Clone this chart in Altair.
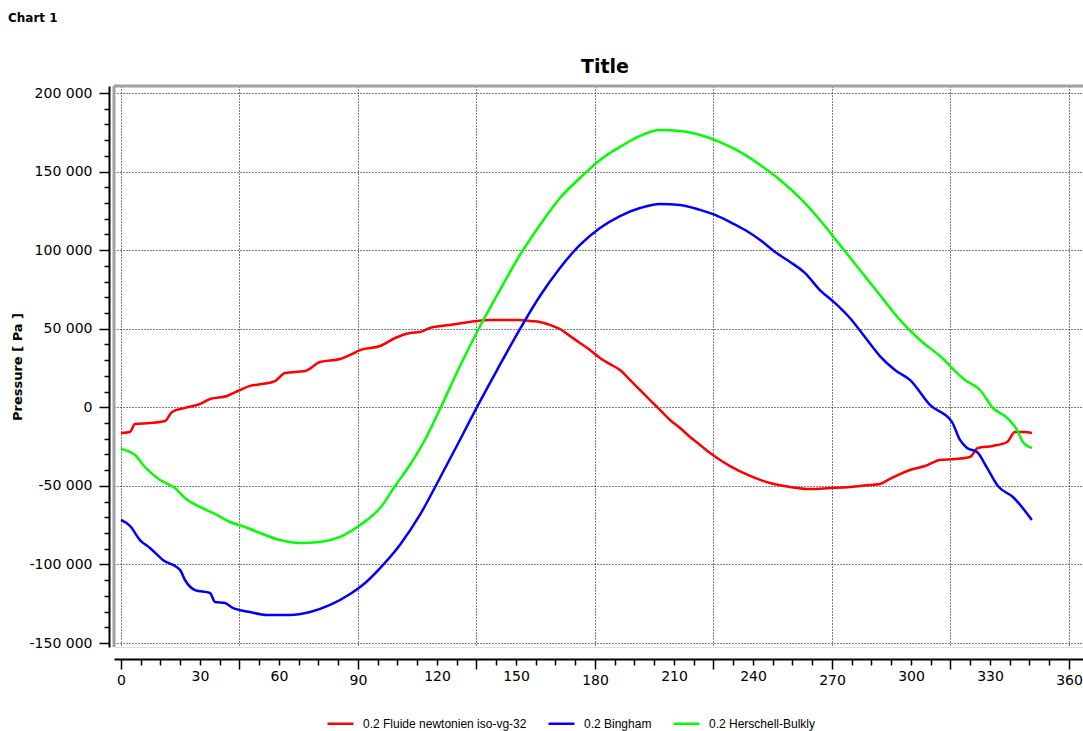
import altair as alt
import pandas as pd

# ---------------- data ----------------
series_names = ["0.2 Fluide newtonien iso-vg-32", "0.2 Bingham", "0.2 Herschell-Bulkly"]
series_colors = ["#ff0000", "#0000ff", "#00ff00"]

red_angle = [0, 3.4, 5.3, 11.0, 16.7, 19.4, 24.3, 30.0, 33.8, 40.3,
             45.2, 49.0, 53.5, 58.5, 62.3, 69.9, 75.6, 83.2, 87.0, 90.8,
             98.4, 104.1, 109.7, 113.5, 117.3, 124.9, 132.5, 140.1, 147.7, 151.5,
             155.3, 159.1, 162.9, 166.7, 170.5, 174.3, 178.1, 181.9, 185.7, 189.5,
             193.3, 197.1, 200.9, 204.7, 208.5, 212.3, 216.1, 219.9, 223.7, 227.5,
             231.3, 238.9, 246.5, 254.1, 261.6, 269.2, 276.8, 284.4, 288.2, 292.0,
             295.8, 299.6, 305.3, 311.0, 316.7, 322.4, 325.4, 331.1, 336.5, 339.5,
             343.3, 345.9]
red_pressure = [-16400, -15700, -10600, -10000, -8700, -3000, -400, 2100, 5300, 7200,
                11000, 13600, 14800, 16700, 21800, 23100, 28800, 30700, 33300, 36400,
                39000, 44100, 47300, 47900, 50500, 52400, 54300, 55600, 55600, 55600,
                54900, 54300, 52400, 49800, 45400, 40900, 36400, 31400, 27500, 23700,
                17400, 11000, 4600, -1700, -8100, -13200, -18900, -24000, -29100, -33500,
                -37400, -43700, -48200, -50700, -52000, -51400, -50700, -49400, -48800, -45600,
                -42500, -39900, -37400, -33500, -32900, -31600, -25900, -24600, -22100, -15700,
                -15700, -16400]

blue_angle = [0, 3.4, 7.2, 11.0, 15.9, 22.4, 24.3, 28.1, 33.8, 35.7,
              39.5, 42.5, 49.0, 55.4, 64.2, 71.8, 79.4, 87.0, 92.7, 98.4,
              105.9, 113.5, 121.1, 128.7, 135.2, 142.8, 151.5, 159.1, 166.7, 174.3,
              181.9, 189.5, 197.1, 204.7, 212.3, 219.9, 225.6, 231.3, 237.0, 242.7,
              248.4, 254.1, 259.7, 265.4, 271.1, 276.8, 282.5, 288.2, 293.9, 299.6,
              307.2, 315.6, 318.6, 321.3, 325.1, 328.9, 333.0, 338.7, 345.9]
blue_pressure = [-71700, -75500, -84500, -89500, -97200, -103500, -109900, -116300, -118200, -123900,
                 -124500, -127700, -130300, -132200, -132200, -130300, -125800, -118800, -111800, -102300,
                 -87600, -68500, -45000, -20800, 200, 23700, 49800, 70800, 88700, 103300,
                 114100, 121700, 126800, 129400, 128800, 125600, 122400, 117900, 112800, 106500,
                 98800, 92500, 85500, 74600, 66400, 56800, 44700, 32600, 23700, 17400,
                 1500, -9400, -20800, -25900, -28500, -38600, -50100, -57100, -71700]

green_angle = [0, 5.3, 9.1, 14.8, 20.5, 24.3, 30.0, 35.7, 41.4, 47.1,
               52.8, 60.4, 68.0, 75.6, 83.2, 90.8, 98.4, 104.1, 109.7, 115.4,
               121.5, 128.0, 135.6, 143.9, 151.5, 159.1, 166.7, 174.3, 181.9, 189.5,
               197.1, 204.7, 212.3, 219.9, 227.5, 235.1, 242.7, 250.3, 257.8, 265.4,
               273.0, 280.6, 288.2, 295.8, 303.4, 311.0, 320.5, 326.2, 331.1, 336.5,
               340.3, 342.5, 345.9]
green_pressure = [-26500, -30400, -38000, -46300, -51400, -57700, -63400, -67900, -73000, -76200,
                  -80000, -84500, -86400, -85700, -82500, -74900, -64100, -50100, -36700, -20800,
                  200, 23700, 49200, 74600, 96900, 116000, 133200, 145900, 157400, 165700,
                  172700, 176400, 175800, 173300, 168800, 162500, 154200, 144600, 133200, 119200,
                  103300, 87400, 71400, 55600, 42800, 32600, 17400, 11000, -400, -6800,
                  -14400, -22100, -25900]

x_ticks = [i * 7.5 for i in range(49)]          # 0 .. 360
y_ticks = list(range(-150000, 200001, 10000))

rows = []
for name, xs, ys in [(series_names[0], red_angle, red_pressure),
                     (series_names[1], blue_angle, blue_pressure),
                     (series_names[2], green_angle, green_pressure)]:
    for a, p in zip(xs, ys):
        rows.append({"series": name, "angle": a, "pressure": p})
df = pd.DataFrame(rows)

# ---------------- layout ----------------
W, H = 969, 561
PAD = {"left": 114, "top": 86, "right": 0, "bottom": 84}
FONT = "DejaVu Sans"

x_axis = alt.Axis(
    values=x_ticks, offset=12, title=None,
    labelExpr="datum.value % 30 === 0 ? format(datum.value, 'd') : ''",
    labelOverlap=False, labelFlush=False,
    labelFont=FONT, labelFontSize=14, labelColor="black", labelPadding=4,
    tickSize={"condition": {"test": "datum.value % 45 === 0", "value": 10}, "value": 6},
    tickColor="black", tickWidth=1.5,
    domainColor="black", domainWidth=2,
    grid=True, gridColor="black", gridDash=[1, 2], gridWidth=1,
    gridOpacity={"condition": {"test": "datum.value % 45 === 0", "value": 1}, "value": 0},
)

y_axis = alt.Axis(
    values=y_ticks, offset=5, title="Pressure [ Pa ]",
    titleFont=FONT, titleFontSize=13, titleFontWeight="bold", titleColor="black", titlePadding=5,
    labelExpr="datum.value % 50000 === 0 ? replace(replace(format(datum.value, ',d'), ',', ' '), '\u2212', '-') : ''",
    labelOverlap=False, labelFlush=False,
    labelFont=FONT, labelFontSize=14, labelColor="black", labelPadding=7,
    tickSize={"condition": {"test": "datum.value % 50000 === 0", "value": 10}, "value": 5},
    tickColor="black", tickWidth=1.5,
    domainColor="black", domainWidth=2,
    grid=True, gridColor="black", gridDash=[1, 2], gridWidth=1,
    gridOpacity={"condition": {"test": "datum.value % 50000 === 0", "value": 1}, "value": 0},
)

lines = alt.Chart(df).mark_line(strokeWidth=2.5, interpolate="monotone").encode(
    x=alt.X("angle:Q", scale=alt.Scale(domain=[-2.658, 365.32], nice=False, zero=False), axis=x_axis),
    y=alt.Y("pressure:Q", scale=alt.Scale(domain=[-152545, 204455], nice=False, zero=False), axis=y_axis),
    color=alt.Color(
        "series:N",
        scale=alt.Scale(domain=series_names, range=series_colors),
        legend=alt.Legend(
            title=None, orient="none", legendX=212, legendY=623, direction="horizontal",
            symbolType="stroke", symbolSize=676, symbolStrokeWidth=2.5,
            labelFont="Liberation Sans", labelFontSize=12, labelColor="black", labelLimit=0,
            labelOffset=8, columnPadding=16,
        ),
    ),
    order=alt.Order("angle:Q"),
)

one = pd.DataFrame({"k": [0]})
top_border = alt.Chart(one).mark_rule(color="#a0a0a0", strokeWidth=3).encode(
    x=alt.value(0), x2=alt.value(W), y=alt.value(0))
left_border = alt.Chart(one).mark_rule(color="#a0a0a0", strokeWidth=3).encode(
    x=alt.value(0), y=alt.value(0), y2=alt.value(H))
corner_label = alt.Chart(one).mark_text(
    text="Chart 1", font=FONT, fontSize=12, fontWeight="bold", align="left", baseline="middle", color="black"
).encode(x=alt.value(-106), y=alt.value(-68))
main_title = alt.Chart(one).mark_text(
    text="Title", font=FONT, fontSize=19, fontWeight="bold", align="center", baseline="middle", color="black"
).encode(x=alt.value(491), y=alt.value(-19))

chart = alt.layer(top_border, left_border, lines, corner_label, main_title).properties(
    width=W, height=H, padding=PAD, autosize="none",
).configure_view(stroke=None).configure(background="white")

chart.save("out.html", embed_options={"renderer": "svg", "actions": False})
